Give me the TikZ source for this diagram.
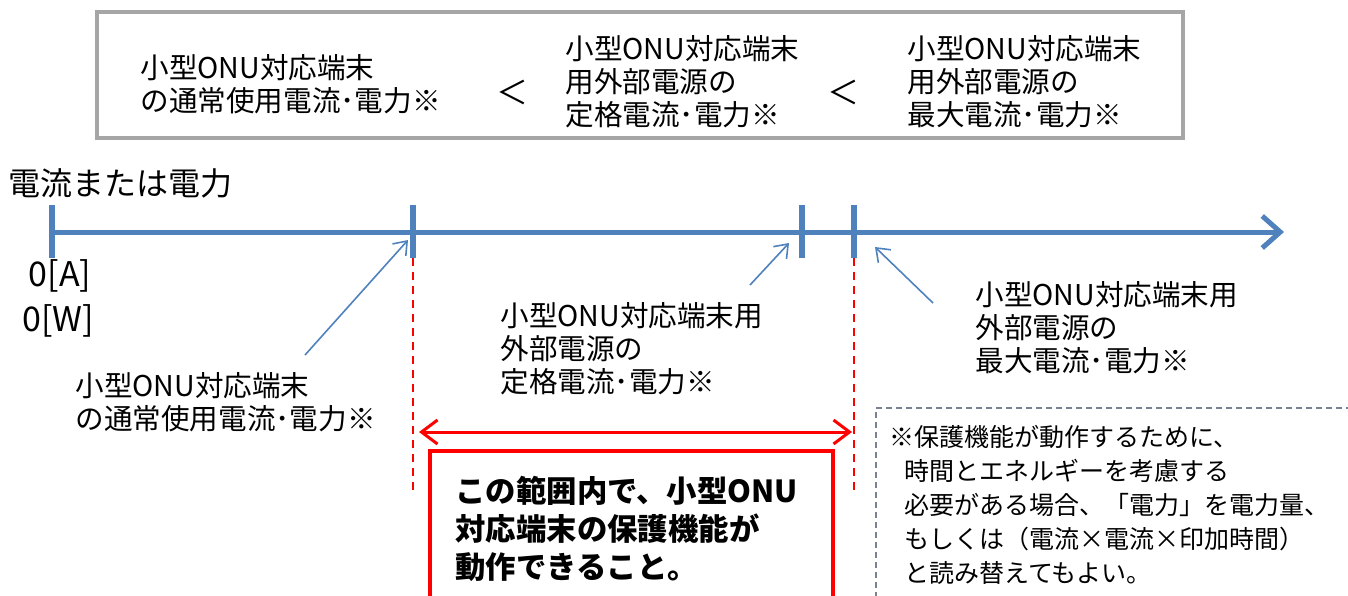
\documentclass[tikz,border=0pt]{standalone}
\usepackage{fontspec}
\setmainfont{Noto Sans CJK JP}
\usetikzlibrary{arrows.meta}
\definecolor{axisblue}{RGB}{79,129,189}
\definecolor{boxgray}{RGB}{166,166,166}
\definecolor{notegray}{RGB}{120,130,145}
\definecolor{rred}{RGB}{255,0,0}
\tikzset{
  lbl/.style={inner sep=0pt, anchor=west, align=left, font=\fontsize{14.3}{16.5}\selectfont},
  ltsym/.style={inner sep=0pt, font=\fontsize{16}{18}\selectfont},
  boldlbl/.style={inner sep=0pt, anchor=west, align=left, font=\fontsize{15.2}{19}\selectfont\bfseries},
  notelbl/.style={inner sep=0pt, anchor=west, align=left, font=\fontsize{12.5}{17}\selectfont},
  zerolbl/.style={inner sep=0pt, font=\fontsize{17}{19}\selectfont},
  axisline/.style={draw=axisblue, line width=2.5pt, -{Straight Barb[length=9pt,width=16pt,line width=2.5pt]}},
  tickmark/.style={draw=axisblue, line width=3pt},
  pointer/.style={draw=axisblue, line width=0.8pt, -{Straight Barb[length=6pt,width=9pt]}},
  rdash/.style={draw=rred, line width=1pt, dash pattern=on 4pt off 3pt},
  rarrow/.style={draw=rred, line width=1.5pt, {Straight Barb[length=8pt,width=12pt]}-{Straight Barb[length=8pt,width=12pt]}},
  rbox/.style={draw=rred, line width=2pt},
  notebox/.style={draw=notegray, line width=0.8pt, dash pattern=on 3pt off 2pt},
}
\begin{document}
\begin{tikzpicture}[x=0.5pt,y=-0.5pt]
\useasboundingbox (0,0) rectangle (1348,595);
\clip (0,0) rectangle (1348,595);
% top comparison box
\node[draw=boxgray, line width=2pt, minimum width=543pt, minimum height=63pt, inner sep=0pt] (topbox) at (640,75) {};
\node[lbl] (cmp1) at (140,84) {小型ONU対応端末\\の通常使用電流･電力※};
\node[ltsym] (lt1) at (512,92) {＜};
\node[lbl] (cmp2) at (565,82) {小型ONU対応端末\\用外部電源の\\定格電流･電力※};
\node[ltsym] (lt2) at (843,92) {＜};
\node[lbl] (cmp3) at (907,82) {小型ONU対応端末\\用外部電源の\\最大電流･電力※};
% axis
\node[lbl, font=\fontsize{16}{18}\selectfont] (ylabel) at (8,183) {電流または電力};
\coordinate (a0) at (52,232);
\coordinate (aend) at (1284,232);
\draw[axisline] (a0) -- (aend);
\foreach \x/\n in {52/k0,413/k1,802/k2,854/k3}{
  \coordinate (\n top) at (\x,205);
  \coordinate (\n bot) at (\x,258);
  \draw[tickmark] (\n top) -- (\n bot);
}
\node[zerolbl] (zA) at (60,276) {0[A]};
\node[zerolbl] (zW) at (58,321) {0[W]};
% red range
\coordinate (d1e) at (413,490);
\coordinate (d2e) at (854,495);
\draw[rdash] (k1bot) -- (d1e);
\draw[rdash] (k3bot) -- (d2e);
\coordinate (r1) at (419,432);
\coordinate (r2) at (852,432);
\draw[rarrow] (r1) -- (r2);
\draw[rbox] (430,600) -- (430,451) -- (833,451) -- (833,600);
\node[boldlbl] (rtext) at (455,529) {この範囲内で、小型ONU\\対応端末の保護機能が\\動作できること。};
% labels and pointers
\node[lbl] (lab1) at (75,402) {小型ONU対応端末\\の通常使用電流･電力※};
\node[lbl] (lab2) at (500,349) {小型ONU対応端末用\\外部電源の\\定格電流･電力※};
\node[lbl] (lab3) at (975,328) {小型ONU対応端末用\\外部電源の\\最大電流･電力※};
\coordinate (p1s) at (305,355); \coordinate (p1e) at (408,240);
\coordinate (p2s) at (750,285); \coordinate (p2e) at (789,243);
\coordinate (p3s) at (933,303); \coordinate (p3e) at (875,247);
\draw[pointer] (p1s) -- (p1e);
\draw[pointer] (p2s) -- (p2e);
\draw[pointer] (p3s) -- (p3e);
% note box
\draw[notebox] (1352,408) -- (876,408) -- (876,600);
\node[notelbl] (note) at (889,505) {※保護機能が動作するために、\\\hspace*{0.6em}時間とエネルギーを考慮する\\\hspace*{0.6em}必要がある場合、「電力」を電力量、\\\hspace*{0.6em}もしくは（電流×電流×印加時間）\\\hspace*{0.6em}と読み替えてもよい。};
\end{tikzpicture}
\end{document}
